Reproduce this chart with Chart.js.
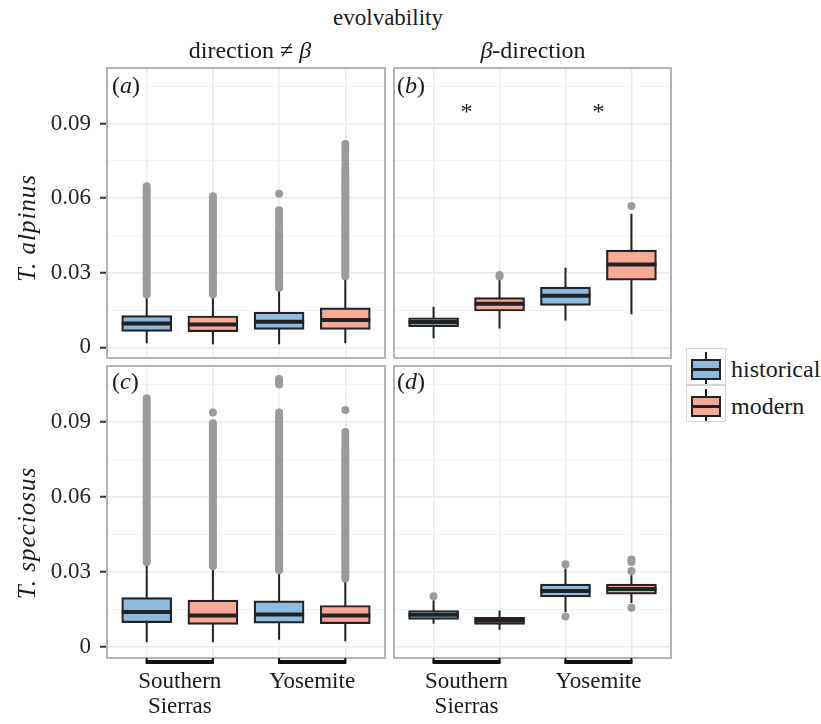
<!DOCTYPE html>
<html>

<head>
    <title>Evolvability boxplots</title>
    <script src="https://cdn.jsdelivr.net/npm/chart.js"></script>
    <style>
        body {
            margin: 0;
            background: #fff;
        }

        #page {
            position: relative;
            width: 821px;
            height: 724px;
            font-family: 'Liberation Serif', 'Times New Roman', serif;
            color: #1a1a1a;
        }

        canvas {
            position: absolute;
        }

        .t {
            position: absolute;
            white-space: nowrap;
            font-size: 24px;
            line-height: 1;
            z-index: 2;
        }

        .c {
            transform: translateX(-50%);
        }

        .ytitle {
            font-size: 25px;
            letter-spacing: 1px;
            transform: translate(-50%, -50%) rotate(-90deg);
        }

        .key {
            position: absolute;
            box-sizing: border-box;
            left: 686px;
            width: 40px;
            height: 37px;
            border: 1.5px solid #d6d6d6;
        }

        .part {
            position: absolute;
            box-sizing: border-box;
        }
    </style>
</head>

<body>
    <div id="page">
        <canvas id="pa" width="390" height="305" style="left:0;top:60px"></canvas>
        <canvas id="pb" width="290" height="305" style="left:390px;top:60px"></canvas>
        <canvas id="pc" width="390" height="366" style="left:0;top:358px"></canvas>
        <canvas id="pd" width="290" height="366" style="left:390px;top:358px"></canvas>

        <div class="t c" style="left:388px;top:6px;font-size:23px">evolvability</div>
        <div class="t c" style="left:250px;top:38px">direction ≠ <i>β</i></div>
        <div class="t c" style="left:533px;top:38px"><i>β</i>-direction</div>
        <div class="t" style="left:112px;top:73px">(<i>a</i>)</div>
        <div class="t" style="left:397px;top:73px">(<i>b</i>)</div>
        <div class="t" style="left:112px;top:369px">(<i>c</i>)</div>
        <div class="t" style="left:397px;top:369px">(<i>d</i>)</div>
        <div class="t ytitle" style="left:26px;top:228px"><i>T. alpinus</i></div>
        <div class="t ytitle" style="left:26px;top:533px"><i>T. speciosus</i></div>
        <div id="legend"></div>
    </div>

    <script>
        const SERIF = "'Liberation Serif', 'Times New Roman', serif";
        const BLUE = '#8dbadf', PINK = '#f6a995', INK = '#222222', GREY = '#9b9b9b';

        const periods = ['historical', 'modern'];
        const periodColours = [BLUE, PINK];
        const regions = [['Southern', 'Sierras'], ['Yosemite']];
        const regionCentres = [1.5, 3.5];
        const regionSpans = [[1, 2], [3, 4]];
        // box order: Southern Sierras historical, SS modern, Yosemite historical, Yosemite modern
        const xPositions = [1, 2, 3, 4];
        const xRange = [0.4, 4.6];
        const yRange = [-0.0043, 0.1124];
        const yTickValues = [0, 0.03, 0.06, 0.09];
        const yTickLabels = ['0', '0.03', '0.06', '0.09'];
        const yMinorValues = [0.015, 0.045, 0.075, 0.105];

        // (a) T. alpinus, direction != beta
        const aLow = [0.0016, 0.0012, 0.0012, 0.0016];
        const aQ1 = [0.0064, 0.0063, 0.0072, 0.0072];
        const aMedian = [0.0096, 0.0092, 0.0103, 0.0110];
        const aQ3 = [0.0128, 0.0126, 0.0142, 0.0159];
        const aHigh = [0.0213, 0.0213, 0.0240, 0.0286];
        const aDense = [[0.0213, 0.0648], [0.0213, 0.0608], [0.0240, 0.0487], [0.0286, 0.0708]];
        const aOutliers = [[], [], [0.0505, 0.0520, 0.0535, 0.0552, 0.0618],
            [0.0722, 0.0738, 0.0755, 0.0772, 0.0790, 0.0805, 0.0818]];

        // (b) T. alpinus, beta-direction
        const bLow = [0.0036, 0.0076, 0.0108, 0.0133];
        const bQ1 = [0.0083, 0.0146, 0.0169, 0.0270];
        const bMedian = [0.0102, 0.0175, 0.0208, 0.0333];
        const bQ3 = [0.0119, 0.0200, 0.0242, 0.0391];
        const bHigh = [0.0163, 0.0273, 0.0320, 0.0537];
        const bDense = [null, null, null, null];
        const bOutliers = [[], [0.0285, 0.0291], [], [0.0569]];
        const sigX = [1.5, 3.5];
        const sigY = [0.097, 0.097];

        // (c) T. speciosus, direction != beta
        const cLow = [0.0020, 0.0020, 0.0030, 0.0024];
        const cQ1 = [0.0098, 0.0091, 0.0096, 0.0094];
        const cMedian = [0.0141, 0.0127, 0.0131, 0.0127];
        const cQ3 = [0.0198, 0.0188, 0.0185, 0.0167];
        const cHigh = [0.0341, 0.0324, 0.0308, 0.0275];
        const cDense = [[0.0341, 0.0995], [0.0324, 0.0895], [0.0308, 0.0925], [0.0275, 0.0800]];
        const cOutliers = [[], [0.0938], [0.0938, 0.1050, 0.1061, 0.1072],
            [0.0815, 0.0830, 0.0845, 0.0860, 0.0948]];

        // (d) T. speciosus, beta-direction
        const dLow = [0.0094, 0.0070, 0.0141, 0.0177];
        const dQ1 = [0.0111, 0.0091, 0.0201, 0.0212];
        const dMedian = [0.0130, 0.0107, 0.0225, 0.0233];
        const dQ3 = [0.0147, 0.0120, 0.0252, 0.0252];
        const dHigh = [0.0188, 0.0147, 0.0315, 0.0288];
        const dDense = [null, null, null, null];
        const dOutliers = [[0.0204], [], [0.0123, 0.0332], [0.0158, 0.0305, 0.0341, 0.0351]];

        // draws medians, panel border, region brackets and significance stars
        const panelPlugin = {
            id: 'panelExtras',
            afterDatasetsDraw(chart) {
                const ctx = chart.ctx;
                const y = chart.scales.y;
                chart.data.datasets.forEach((ds, d) => {
                    if (!ds.medians) return;
                    chart.getDatasetMeta(d).data.forEach((bar, i) => {
                        const py = y.getPixelForValue(ds.medians[i]);
                        ctx.save();
                        ctx.strokeStyle = INK;
                        ctx.lineWidth = 4;
                        ctx.beginPath();
                        ctx.moveTo(bar.x - bar.width / 2, py);
                        ctx.lineTo(bar.x + bar.width / 2, py);
                        ctx.stroke();
                        ctx.restore();
                    });
                });
            },
            afterDraw(chart, args, opts) {
                const ctx = chart.ctx;
                const area = chart.chartArea;
                const xs = chart.scales.x, ys = chart.scales.y;
                ctx.save();
                ctx.strokeStyle = '#b3b3b3';
                ctx.lineWidth = 2;
                ctx.strokeRect(area.left, area.top, area.right - area.left, area.bottom - area.top);

                if (opts.brackets) {
                    ctx.strokeStyle = '#111';
                    regionSpans.forEach(([s, e]) => {
                        const x1 = xs.getPixelForValue(s), x2 = xs.getPixelForValue(e);
                        ctx.lineWidth = 4;
                        ctx.beginPath();
                        ctx.moveTo(x1 - 1, area.bottom + 4);
                        ctx.lineTo(x2 + 1, area.bottom + 4);
                        ctx.stroke();
                        ctx.lineWidth = 2;
                        ctx.beginPath();
                        ctx.moveTo(x1, area.bottom);
                        ctx.lineTo(x1, area.bottom + 5);
                        ctx.moveTo(x2, area.bottom);
                        ctx.lineTo(x2, area.bottom + 5);
                        ctx.stroke();
                    });
                }
                if (opts.stars) {
                    ctx.fillStyle = '#1a1a1a';
                    ctx.font = '24px ' + SERIF;
                    ctx.textAlign = 'center';
                    ctx.textBaseline = 'alphabetic';
                    sigX.forEach((v, i) => {
                        // star glyph sits about half an em above the baseline
                        ctx.fillText('*', xs.getPixelForValue(v), ys.getPixelForValue(sigY[i]) + 0.53 * 24);
                    });
                }
                ctx.restore();
            }
        };

        function makePanel(id, p) {
            const boxes = idx => idx.map(i => ({ x: xPositions[i], y: [p.q1[i], p.q3[i]] }));
            const hist = [0, 2], mod = [1, 3];
            const isMajor = v => yTickValues.includes(v);

            const scales = {
                x: {
                    type: 'linear',
                    min: xRange[0],
                    max: xRange[1],
                    offset: false,
                    afterBuildTicks: s => { s.ticks = xPositions.map(v => ({ value: v })); },
                    ticks: { display: false },
                    grid: { color: '#ebebeb', lineWidth: 1.5, drawTicks: false, offset: false },
                    border: { display: false },
                    afterFit: s => { s.height = 0; s.paddingLeft = 0; s.paddingRight = 0; }
                },
                y: {
                    min: yRange[0],
                    max: yRange[1],
                    afterBuildTicks: s => {
                        s.ticks = yTickValues.concat(yMinorValues).sort((m, n) => m - n).map(v => ({ value: v }));
                    },
                    ticks: {
                        display: p.left,
                        font: { family: SERIF, size: 23 },
                        color: '#262626',
                        padding: 9,
                        callback: v => { const i = yTickValues.indexOf(v); return i < 0 ? '' : yTickLabels[i]; }
                    },
                    grid: {
                        color: c => (c.tick && isMajor(c.tick.value)) ? '#ebebeb' : '#f4f4f4',
                        lineWidth: c => (c.tick && isMajor(c.tick.value)) ? 1.5 : 1,
                        drawTicks: p.left,
                        tickLength: 7,
                        tickWidth: 2,
                        tickColor: c => (c.tick && isMajor(c.tick.value)) ? '#333' : 'rgba(0,0,0,0)'
                    },
                    border: { display: false },
                    afterFit: s => { s.width = p.left ? 107 : 0; s.paddingTop = 0; s.paddingBottom = 0; }
                }
            };
            if (p.bottom) {
                scales.x2 = {
                    type: 'linear',
                    position: 'bottom',
                    min: xRange[0],
                    max: xRange[1],
                    offset: false,
                    afterBuildTicks: s => { s.ticks = regionCentres.map(v => ({ value: v })); },
                    ticks: {
                        font: { family: SERIF, size: 23, lineHeight: 1.1 },
                        color: '#1a1a1a',
                        padding: 11,
                        maxRotation: 0,
                        autoSkip: false,
                        callback: (v, i) => regions[i]
                    },
                    grid: { display: false, drawTicks: false },
                    border: { display: false },
                    afterFit: s => { s.height = 66; s.paddingLeft = 0; s.paddingRight = 0; }
                };
            }

            new Chart(document.getElementById(id), {
                type: 'bar',
                data: {
                    datasets: [
                        {
                            type: 'bar', label: periods[0], data: boxes(hist), medians: hist.map(i => p.median[i]),
                            backgroundColor: periodColours[0], borderColor: INK, borderWidth: 2.2,
                            borderSkipped: false, barThickness: 50, grouped: false, order: 2
                        },
                        {
                            type: 'bar', label: periods[1], data: boxes(mod), medians: mod.map(i => p.median[i]),
                            backgroundColor: periodColours[1], borderColor: INK, borderWidth: 2.2,
                            borderSkipped: false, barThickness: 50, grouped: false, order: 2
                        },
                        {
                            type: 'line', label: 'whiskers',
                            data: xPositions.flatMap((x, i) => [{ x, y: p.low[i] }, { x, y: p.high[i] }, { x, y: null }]),
                            borderColor: INK, borderWidth: 2, pointRadius: 0, spanGaps: false, order: 3
                        },
                        {
                            type: 'line', label: 'outlier runs',
                            data: xPositions.flatMap((x, i) => p.dense[i] ?
                                [{ x, y: p.dense[i][0] }, { x, y: p.dense[i][1] }, { x, y: null }] : []),
                            borderColor: GREY, borderWidth: 8, borderCapStyle: 'round',
                            pointRadius: 0, spanGaps: false, order: 1
                        },
                        {
                            type: 'line', label: 'outliers',
                            data: xPositions.flatMap((x, i) => p.out[i].map(v => ({ x, y: v }))),
                            showLine: false, pointRadius: 4, pointBackgroundColor: GREY,
                            pointBorderWidth: 0, order: 1
                        }
                    ]
                },
                options: {
                    responsive: false,
                    devicePixelRatio: 1,
                    animation: false,
                    events: [],
                    layout: { padding: p.pad },
                    plugins: {
                        legend: { display: false },
                        tooltip: { enabled: false },
                        panelExtras: { brackets: p.bottom, stars: p.stars }
                    },
                    scales: scales
                },
                plugins: [panelPlugin]
            });
        }

        makePanel('pa', {
            low: aLow, q1: aQ1, median: aMedian, q3: aQ3, high: aHigh, dense: aDense, out: aOutliers,
            left: true, bottom: false, stars: false, pad: { top: 8, right: 5, bottom: 7, left: 0 }
        });
        makePanel('pb', {
            low: bLow, q1: bQ1, median: bMedian, q3: bQ3, high: bHigh, dense: bDense, out: bOutliers,
            left: false, bottom: false, stars: true, pad: { top: 8, right: 9, bottom: 7, left: 2 }
        });
        makePanel('pc', {
            low: cLow, q1: cQ1, median: cMedian, q3: cQ3, high: cHigh, dense: cDense, out: cOutliers,
            left: true, bottom: true, stars: false, pad: { top: 8, right: 5, bottom: 0, left: 0 }
        });
        makePanel('pd', {
            low: dLow, q1: dQ1, median: dMedian, q3: dQ3, high: dHigh, dense: dDense, out: dOutliers,
            left: false, bottom: true, stars: false, pad: { top: 8, right: 9, bottom: 0, left: 2 }
        });

        // legend: small boxplot glyph per period
        const legend = document.getElementById('legend');
        periods.forEach((name, k) => {
            const top = 348 + k * 37;
            legend.insertAdjacentHTML('beforeend',
                `<div class="key" style="top:${top}px"></div>` +
                `<div class="part" style="left:704.5px;top:${top + 4}px;width:2px;height:32px;background:${INK}"></div>` +
                `<div class="part" style="left:691px;top:${top + 11}px;width:30px;height:21px;border:2px solid ${INK};background:${periodColours[k]}"></div>` +
                `<div class="part" style="left:691px;top:${top + 20}px;width:30px;height:3px;background:${INK}"></div>` +
                `<div class="t" style="left:731px;top:${top + 9}px">${name}</div>`);
        });
    </script>

</body>

</html>
